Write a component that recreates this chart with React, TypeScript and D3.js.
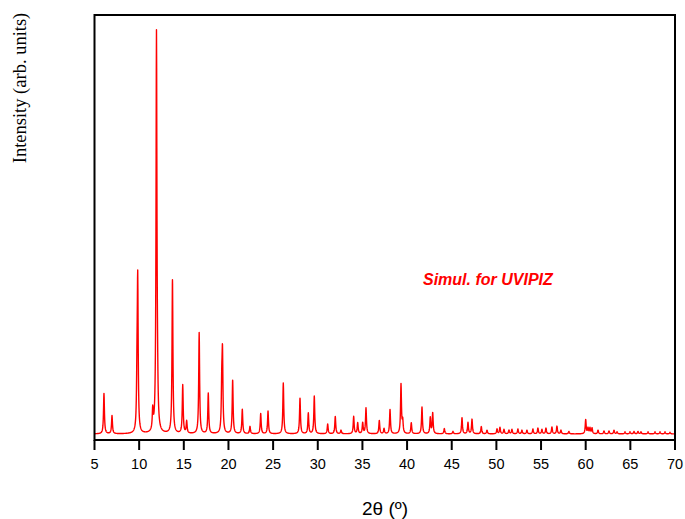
import React from "react";
import * as d3 from "d3";

// X-axis tick values (2θ, degrees)
const xTicks = [5, 10, 15, 20, 25, 30, 35, 40, 45, 50, 55, 60, 65, 70];

// Simulated reflection positions (2θ, degrees)
const peakPos = [
  6.06, 6.96, 9.76, 9.84, 11.52, 11.94, 12.05, 13.73, 14.88, 15.32, 16.72, 17.74,
  19.25, 19.33, 20.47, 21.55, 22.41, 23.61, 24.43, 26.14, 28.01, 28.94, 29.61,
  31.11, 31.96, 32.6, 34.02, 34.47, 35.03, 35.4, 36.89, 37.42, 38.09, 39.32,
  39.51, 40.47, 41.67, 42.6, 42.87, 44.17, 45.14, 46.15, 46.82, 47.27, 48.31,
  48.95, 50.07, 50.4, 50.85, 51.41, 51.74, 52.41, 52.86, 53.42, 54.09, 54.65,
  55.1, 55.55, 56.22, 56.78, 57.23, 58.12, 60.0, 60.26, 60.48, 60.71, 61.38,
  62.05, 62.61, 63.17, 63.51, 64.4, 64.96, 65.41, 65.86, 66.19, 66.98, 67.76,
  68.32, 68.88, 69.44,
];

// Relative intensities (arb. units) of those reflections
const peakInt = [
  10.0, 4.5, 11, 36.5, 5.0, 98.5, 6, 38, 12.0, 3.0, 25, 10.0,
  10, 18.5, 13.2, 6.0, 1.8, 5.0, 5.6, 12.6, 8.8, 5.1, 9.3,
  2.4, 4.3, 0.9, 4.3, 2.7, 2.7, 6.4, 3.3, 1.3, 6.0, 12.2,
  3.0, 2.7, 6.6, 4.0, 5.1, 1.3, 0.6, 4.0, 2.8, 3.6, 1.8,
  0.9, 1.2, 1.6, 1.1, 0.9, 1.1, 1.2, 0.9, 0.9, 1.2, 1.4,
  1.1, 1.4, 1.7, 1.9, 0.9, 0.6, 3.5, 1.4, 1.4, 1.4, 0.9,
  0.7, 0.7, 0.9, 0.5, 0.5, 0.5, 0.6, 0.6, 0.5, 0.5, 0.5,
  0.5, 0.5, 0.4,
];

const xTitle = "2θ (º)";
const yTitle = "Intensity (arb. units)";
const seriesLabel = "Simul. for UVIPIZ";

export default function App() {
  const W = 685;
  const H = 519;
  const left = 94.5;
  const right = 675;
  const top = 15;
  const bottom = 440;

  const x = d3.scaleLinear().domain([5, 70]).range([left, right]);
  const y = d3.scaleLinear().domain([-1.5, 103.7]).range([bottom, top]);

  const gamma = 0.06;
  const grid = d3
    .range(5, 70.0001, 0.02)
    .concat(peakPos)
    .sort(d3.ascending);
  const profile: [number, number][] = grid.map((t) => [
    t,
    d3.sum(peakPos, (p, i) => peakInt[i] / (1 + ((t - p) / gamma) ** 2)),
  ]);
  const line = d3
    .line<[number, number]>()
    .x((d) => x(d[0]))
    .y((d) => y(d[1]));

  const sans = "'Liberation Sans', Arial, sans-serif";
  const serif = "'Liberation Serif', 'Times New Roman', serif";

  return (
    <svg
      width={W}
      height={H}
      style={{ position: "absolute", left: 0, top: 0, background: "#fff" }}
    >
      <path
        d={line(profile) || ""}
        fill="none"
        stroke="#ff0000"
        strokeWidth={1.4}
        strokeLinejoin="round"
      />
      <rect
        x={left}
        y={top}
        width={right - left}
        height={bottom - top}
        fill="none"
        stroke="#000"
        strokeWidth={2}
      />
      {xTicks.map((t) => (
        <g key={t}>
          <line x1={x(t)} x2={x(t)} y1={bottom} y2={bottom + 10} stroke="#000" strokeWidth={2} />
          <text
            x={x(t)}
            y={bottom + 29}
            textAnchor="middle"
            fontFamily={sans}
            fontSize={14.5}
            fill="#000"
          >
            {t}
          </text>
        </g>
      ))}
      <text
        x={385}
        y={515}
        textAnchor="middle"
        fontFamily={sans}
        fontSize={19}
        fill="#000"
      >
        {xTitle}
      </text>
      <text
        transform="translate(26,88) rotate(-90)"
        textAnchor="middle"
        fontFamily={serif}
        fontSize={18.5}
        fill="#000"
      >
        {yTitle}
      </text>
      <text
        x={423}
        y={285}
        fontFamily={sans}
        fontSize={16}
        fontWeight="bold"
        fontStyle="italic"
        fill="#ff0000"
      >
        {seriesLabel}
      </text>
    </svg>
  );
}
